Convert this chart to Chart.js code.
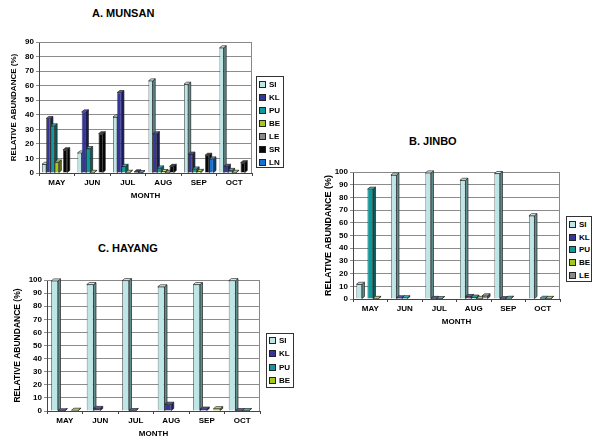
<!DOCTYPE html>
<html lang="en">
<head>
<meta charset="UTF-8">
<title>Relative abundance</title>
<script src="https://cdn.jsdelivr.net/npm/chart.js"></script>
<style>
    body { margin: 0; background: #fff; font-family: "Liberation Sans", Arial, sans-serif; }
    #page { position: relative; width: 600px; height: 444px; overflow: hidden; }
    canvas { position: absolute; }
    .titulo { position: absolute; font-weight: bold; font-size: 11px; white-space: nowrap; }
    .legenda { position: absolute; border: 1px solid #333; box-sizing: border-box; padding-left: 2px; }
    .item { font-weight: bold; font-size: 8px; display: flex; align-items: center; }
    .sw { display: inline-block; width: 5px; height: 5px; border: 1px solid #222; margin-right: 3px; }
</style>
</head>
<body>
<div id="page">
    <div class="titulo" style="left:92px; top:7px;">A. MUNSAN</div>
    <canvas id="munsan" width="258" height="173" style="left:0px; top:30px;"></canvas>
    <div class="legenda" id="legMunsan" style="left:256px; top:76px; width:28px; height:92px; padding-top:1px;"></div>

    <div class="titulo" style="left:409px; top:135px;">B. JINBO</div>
    <canvas id="jinbo" width="255" height="169" style="left:310px; top:160px;"></canvas>
    <div class="legenda" id="legJinbo" style="left:566px; top:216px; width:26px; height:66px; padding-top:1px;"></div>

    <div class="titulo" style="left:98px; top:242px;">C. HAYANG</div>
    <canvas id="hayang" width="262" height="173" style="left:0px; top:268px;"></canvas>
    <div class="legenda" id="legHayang" style="left:266px; top:333px; width:28px; height:55px; padding-top:0px;"></div>
</div>

<script>
    const months = ['MAY', 'JUN', 'JUL', 'AUG', 'SEP', 'OCT'];

    // A. MUNSAN
    const munsanSI = [6, 13.8, 38.5, 63.3, 61, 86];
    const munsanKL = [37.5, 42, 55.3, 27, 13, 4.6];
    const munsanPU = [32.4, 16.8, 4.6, 3.5, 2.8, 1.8];
    const munsanBE = [7.6, 0.5, 0.5, 1, 1.1, 0.5];
    const munsanLE = [0, 0, 0, 0.5, 0, 0];
    const munsanSR = [16, 27, 0.8, 4.6, 12.2, 7.1];
    const munsanLN = [0, 0, 0.3, 0, 9.7, 0];

    // B. JINBO
    const jinboSI = [11.6, 97.6, 99.3, 93.5, 98.8, 65.6];
    const jinboKL = [0, 1, 0.5, 2, 0.3, 0];
    const jinboPU = [86.5, 1, 0.3, 1.5, 0.6, 0.6];
    const jinboBE = [0.5, 0, 0, 0.5, 0, 0.5];
    const jinboLE = [0, 0, 0, 2.5, 0, 0];

    // C. HAYANG
    const hayangSI = [99.3, 96.5, 99.5, 94.8, 96.5, 99.5];
    const hayangKL = [0.2, 2, 0.3, 5.2, 1.5, 0.3];
    const hayangPU = [0, 0, 0, 0, 0, 0.3];
    const hayangBE = [0.6, 0, 0, 0, 1.8, 0];

    // cores: frente, lado, topo
    const cores = {
        SI: ['#bfe6e6', '#5f8c8c', '#e2f6f6'],
        KL: ['#35359a', '#1a1a58', '#5c5cc0'],
        PU: ['#0e9a9a', '#055c5c', '#3fc0c0'],
        BE: ['#a4c81c', '#5e7410', '#c8e460'],
        LE: ['#8a8a8a', '#4e4e4e', '#b0b0b0'],
        SR: ['#080808', '#000000', '#404040'],
        LN: ['#1670d2', '#0a3e78', '#4c98e8']
    };

    Chart.defaults.font.family = '"Liberation Sans", Arial, sans-serif';
    Chart.defaults.font.weight = 'bold';
    Chart.defaults.color = '#000';

    function poly(ctx, pts) {
        ctx.beginPath();
        ctx.moveTo(pts[0][0], pts[0][1]);
        for (let k = 1; k < pts.length; k++) ctx.lineTo(pts[k][0], pts[k][1]);
        ctx.closePath();
        ctx.fill();
        ctx.stroke();
    }

    // lados e topos das colunas (efeito 3D), desenhados antes da frente
    const bar3d = {
        id: 'bar3d',
        beforeDatasetsDraw(chart) {
            const ctx = chart.ctx;
            const a = chart.chartArea;
            const dx = 2.5, dy = 2;
            ctx.save();
            ctx.strokeStyle = '#888';
            ctx.lineWidth = 1;
            ctx.beginPath();
            ctx.moveTo(a.left, a.top + 0.5);
            ctx.lineTo(a.right - 0.5, a.top + 0.5);
            ctx.lineTo(a.right - 0.5, a.bottom);
            ctx.stroke();
            ctx.lineWidth = 0.7;
            ctx.strokeStyle = '#222';
            chart.data.datasets.forEach((ds, i) => {
                chart.getDatasetMeta(i).data.forEach((bar, j) => {
                    if (!ds.data[j]) return;
                    const p = bar.getProps(['x', 'y', 'base', 'width'], true);
                    const l = p.x - p.width / 2, r = p.x + p.width / 2;
                    ctx.fillStyle = cores[ds.label][1];
                    poly(ctx, [[r, p.y], [r + dx, p.y - dy], [r + dx, p.base - dy], [r, p.base]]);
                    ctx.fillStyle = cores[ds.label][2];
                    poly(ctx, [[l, p.y], [l + dx, p.y - dy], [r + dx, p.y - dy], [r, p.y]]);
                });
            });
            ctx.restore();
        }
    };

    function criarGrafico(id, series, valores, cfg) {
        const datasets = series.map((s, i) => ({
            label: s,
            data: valores[i],
            backgroundColor: cores[s][0],
            borderColor: '#222',
            borderWidth: 0.7,
            categoryPercentage: cfg.cat,
            barPercentage: 1
        }));
        return new Chart(document.getElementById(id), {
            type: 'bar',
            data: { labels: months, datasets: datasets },
            options: {
                responsive: false,
                animation: false,
                layout: { padding: { top: cfg.top, right: cfg.right, left: 0, bottom: 0 } },
                plugins: { legend: { display: false }, tooltip: { enabled: false } },
                scales: {
                    x: {
                        grid: { display: true, drawOnChartArea: false, tickLength: 3, color: '#444' },
                        border: { color: '#444' },
                        ticks: { font: { size: 8, weight: 'bold' }, padding: 2 },
                        title: { display: true, text: 'MONTH', font: { size: 8, weight: 'bold' }, padding: { top: 0, bottom: 2 } },
                        afterFit(scale) { scale.height = 30; }
                    },
                    y: {
                        min: 0,
                        max: cfg.max,
                        ticks: { stepSize: 10, font: { size: 8, weight: 'bold' }, padding: 2 },
                        grid: { color: '#8c8c8c', tickLength: 3 },
                        border: { color: '#444' },
                        title: { display: true, text: 'RELATIVE ABUNDANCE (%)', font: { size: cfg.tsize, weight: 'bold' }, padding: { top: cfg.tpad, bottom: 0 } },
                        afterFit(scale) { scale.width = cfg.yw; }
                    }
                }
            },
            plugins: [bar3d]
        });
    }

    function legenda(id, series, altura) {
        document.getElementById(id).innerHTML = series.map(s =>
            `<div class="item" style="height:${altura}px"><span class="sw" style="background:${cores[s][0]}"></span>${s}</div>`
        ).join('');
    }

    const seriesMunsan = ['SI', 'KL', 'PU', 'BE', 'LE', 'SR', 'LN'];
    const seriesJinbo = ['SI', 'KL', 'PU', 'BE', 'LE'];
    const seriesHayang = ['SI', 'KL', 'PU', 'BE'];

    criarGrafico('munsan', seriesMunsan,
        [munsanSI, munsanKL, munsanPU, munsanBE, munsanLE, munsanSR, munsanLN],
        { max: 90, yw: 39, top: 12, right: 6, cat: 0.83, tsize: 8, tpad: 9 });
    criarGrafico('jinbo', seriesJinbo,
        [jinboSI, jinboKL, jinboPU, jinboBE, jinboLE],
        { max: 100, yw: 43, top: 12, right: 5, cat: 0.8, tsize: 9, tpad: 13.5 });
    criarGrafico('hayang', seriesHayang,
        [hayangSI, hayangKL, hayangPU, hayangBE],
        { max: 100, yw: 47, top: 12, right: 2, cat: 0.76, tsize: 8.5, tpad: 13 });

    legenda('legMunsan', seriesMunsan, 13);
    legenda('legJinbo', seriesJinbo, 12.7);
    legenda('legHayang', seriesHayang, 13.3);
</script>
</body>
</html>
